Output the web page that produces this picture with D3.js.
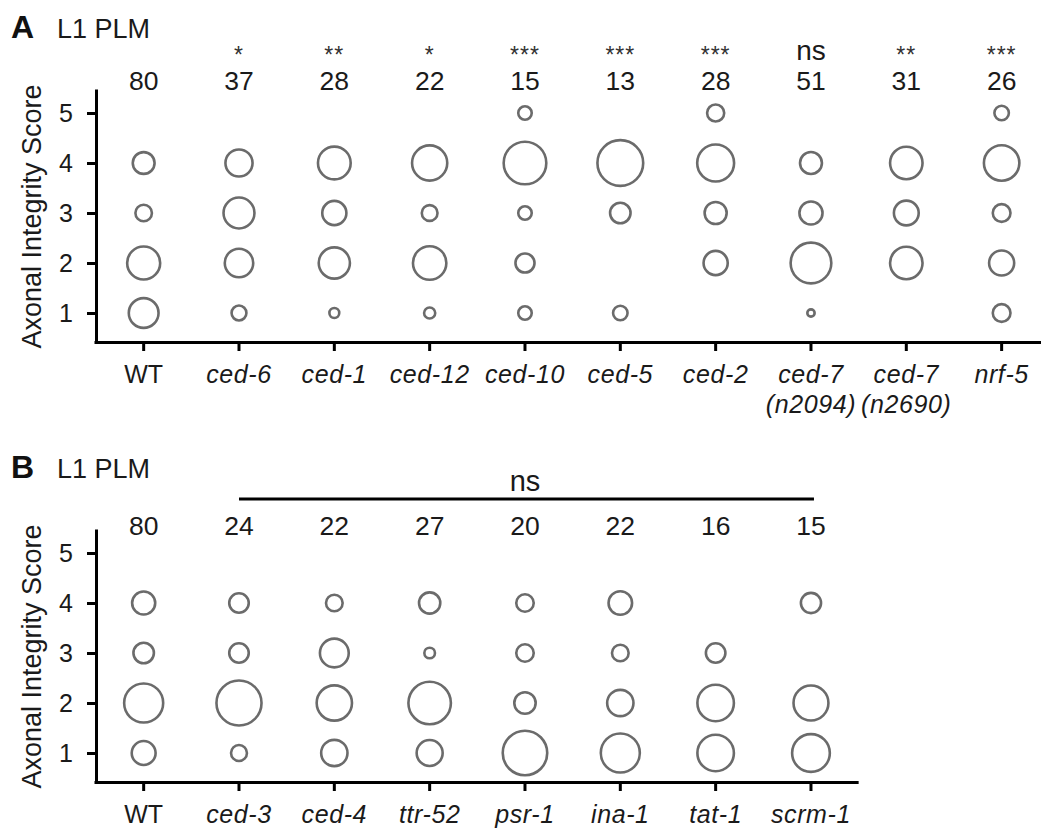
<!DOCTYPE html>
<html>
<head>
<meta charset="utf-8">
<script src="https://cdn.jsdelivr.net/npm/d3@7"></script>
<style>
  html, body { margin: 0; padding: 0; background: #fff; }
  svg { display: block; }
  text { font-family: "Liberation Sans", Arial, sans-serif; fill: #1a1a1a; }
</style>
</head>
<body>
<svg id="chart" width="1041" height="831"></svg>
<script>
// ---------------- DATA ----------------
const scores = [1, 2, 3, 4, 5];
const yTickValues = [1, 2, 3, 4, 5];

// Panel A
const strainsA = ["WT", "ced-6", "ced-1", "ced-12", "ced-10", "ced-5", "ced-2", "ced-7 (n2094)", "ced-7 (n2690)", "nrf-5"];
const labelsA = [["WT"], ["ced-6"], ["ced-1"], ["ced-12"], ["ced-10"], ["ced-5"], ["ced-2"], ["ced-7", "(n2094)"], ["ced-7", "(n2690)"], ["nrf-5"]];
const nA = [80, 37, 28, 22, 15, 13, 28, 51, 31, 26];
const sigA = ["", "*", "**", "*", "***", "***", "***", "ns", "**", "***"];
// animals per score (score 1..5), per strain
const countsA_score1 = [26, 3, 1, 1, 1, 1, 0, 1, 0, 3];
const countsA_score2 = [32, 11, 10, 9, 2, 0, 6, 31, 12, 6];
const countsA_score3 = [8, 13, 6, 2, 1, 2, 5, 10, 7, 3];
const countsA_score4 = [14, 10, 11, 10, 10, 10, 14, 9, 12, 12];
const countsA_score5 = [0, 0, 0, 0, 1, 0, 3, 0, 0, 2];

// Panel B
const strainsB = ["WT", "ced-3", "ced-4", "ttr-52", "psr-1", "ina-1", "tat-1", "scrm-1"];
const labelsB = [["WT"], ["ced-3"], ["ced-4"], ["ttr-52"], ["psr-1"], ["ina-1"], ["tat-1"], ["scrm-1"]];
const nB = [80, 24, 22, 27, 20, 22, 16, 15];
const sigB = "ns"; // one bracket over all mutants vs WT
const countsB_score1 = [15, 2, 5, 6, 13, 11, 7, 7];
const countsB_score2 = [40, 16, 9, 16, 3, 5, 7, 6];
const countsB_score3 = [11, 3, 6, 1, 2, 2, 2, 0];
const countsB_score4 = [14, 3, 2, 4, 2, 4, 0, 2];
const countsB_score5 = [0, 0, 0, 0, 0, 0, 0, 0];

const countsA = [countsA_score1, countsA_score2, countsA_score3, countsA_score4, countsA_score5];
const countsB = [countsB_score1, countsB_score2, countsB_score3, countsB_score4, countsB_score5];

// ---------------- DRAW ----------------
const svg = d3.select("#chart");
const STEP = 95.33;
const X0 = 96;

function panel(opts) {
  const g = svg.append("g").attr("transform", `translate(0,${opts.dy})`);
  const x = d3.scaleBand().domain(opts.strains).range([X0, X0 + STEP * opts.strains.length]).padding(0);
  const y = d3.scaleLinear().domain([0.42, 5.48]).range([342, 89]);
  const r = d3.scaleSqrt().domain([0, 1]).range([0, opts.rMax]);

  // panel letter + title
  g.append("text").attr("x", 11).attr("y", 38).attr("font-size", 32).attr("font-weight", "bold")
    .style("fill", "#111").text(opts.letter);
  g.append("text").attr("x", 57).attr("y", 38).attr("font-size", 27).text("L1 PLM");

  // y axis
  const yAxis = g.append("g").attr("transform", `translate(${X0},0)`)
    .call(d3.axisLeft(y).tickValues(yTickValues).tickFormat(d3.format("d")).tickSize(9).tickSizeOuter(0).tickPadding(14));
  yAxis.selectAll("path, line").attr("stroke", "#000").attr("stroke-width", 3);
  yAxis.selectAll("text").attr("font-size", 25).attr("font-family", "Liberation Sans, Arial, sans-serif").style("fill", "#1a1a1a");

  // x axis
  const xAxis = g.append("g").attr("transform", `translate(0,${opts.xAxisY})`)
    .call(d3.axisBottom(x).tickSize(9).tickSizeOuter(0).tickFormat(""));
  xAxis.selectAll("path, line").attr("stroke", "#000").attr("stroke-width", 3);
  xAxis.select("path").attr("d", `M${X0 - 1.5},0.5H${X0 + STEP * opts.strains.length}`);
  xAxis.selectAll(".tick text").remove();

  // x labels
  const lab = g.append("g").selectAll("text").data(opts.strains).join("text")
    .attr("x", d => x(d) + x.bandwidth() / 2)
    .attr("y", opts.xAxisY + 41)
    .attr("text-anchor", "middle")
    .attr("font-size", 25)
    .attr("font-style", (d, i) => opts.labels[i][0] === "WT" ? "normal" : "italic")
    .style("letter-spacing", (d, i) => opts.labels[i][0] === "WT" ? "0px" : "0.6px");
  lab.each(function(d, i) {
    const t = d3.select(this);
    opts.labels[i].forEach((line, j) => {
      t.append("tspan").attr("x", x(d) + x.bandwidth() / 2).attr("dy", j === 0 ? 0 : 30).text(line);
    });
  });

  // y title
  g.append("text")
    .attr("transform", `translate(41,${(y.range()[0] + y.range()[1]) / 2 + 1}) rotate(-90)`)
    .attr("text-anchor", "middle").attr("font-size", 27)
    .text("Axonal Integrity Score");

  // n labels
  g.append("g").selectAll("text").data(opts.n).join("text")
    .attr("x", (d, i) => x(opts.strains[i]) + x.bandwidth() / 2)
    .attr("y", opts.nY)
    .attr("text-anchor", "middle").attr("font-size", 26.5)
    .text(d => d);

  // bubbles
  const cells = [];
  opts.counts.forEach((arr, si) => {
    arr.forEach((c, i) => {
      if (c > 0) cells.push({ strain: opts.strains[i], score: scores[si], frac: c / opts.n[i] });
    });
  });
  g.append("g").selectAll("circle").data(cells).join("circle")
    .attr("cx", d => x(d.strain) + x.bandwidth() / 2)
    .attr("cy", d => y(d.score))
    .attr("r", d => r(d.frac))
    .attr("fill", "none")
    .attr("stroke", "#6b6b6b")
    .attr("stroke-width", 2.6);

  return { g, x, y };
}

// Panel A
const A = panel({ dy: 0, letter: "A", strains: strainsA, labels: labelsA, n: nA, counts: countsA, rMax: 26.1, xAxisY: 342, nY: 90 });
A.g.append("g").selectAll("text").data(sigA).join("text")
  .attr("x", (d, i) => A.x(strainsA[i]) + A.x.bandwidth() / 2)
  .attr("y", d => d === "ns" ? 60 : 63)
  .attr("text-anchor", "middle")
  .attr("font-size", d => d === "ns" ? 28 : 23)
  .style("letter-spacing", d => d === "ns" ? "0px" : "1px")
  .style("fill", d => d === "ns" ? "#1a1a1a" : "#333")
  .text(d => d);

// Panel B
const B = panel({ dy: 440, letter: "B", strains: strainsB, labels: labelsB, n: nB, counts: countsB, rMax: 27.6, xAxisY: 342, nY: 95 });
const bx1 = B.x(strainsB[1]) + B.x.bandwidth() / 2;
const bx2 = B.x(strainsB[strainsB.length - 1]) + B.x.bandwidth() / 2;
B.g.append("line").attr("x1", bx1).attr("x2", bx2 + 3).attr("y1", 59).attr("y2", 59)
  .attr("stroke", "#000").attr("stroke-width", 3);
B.g.append("text").attr("x", (bx1 + bx2) / 2).attr("y", 51).attr("text-anchor", "middle")
  .attr("font-size", 29).text(sigB);
</script>
</body>
</html>
